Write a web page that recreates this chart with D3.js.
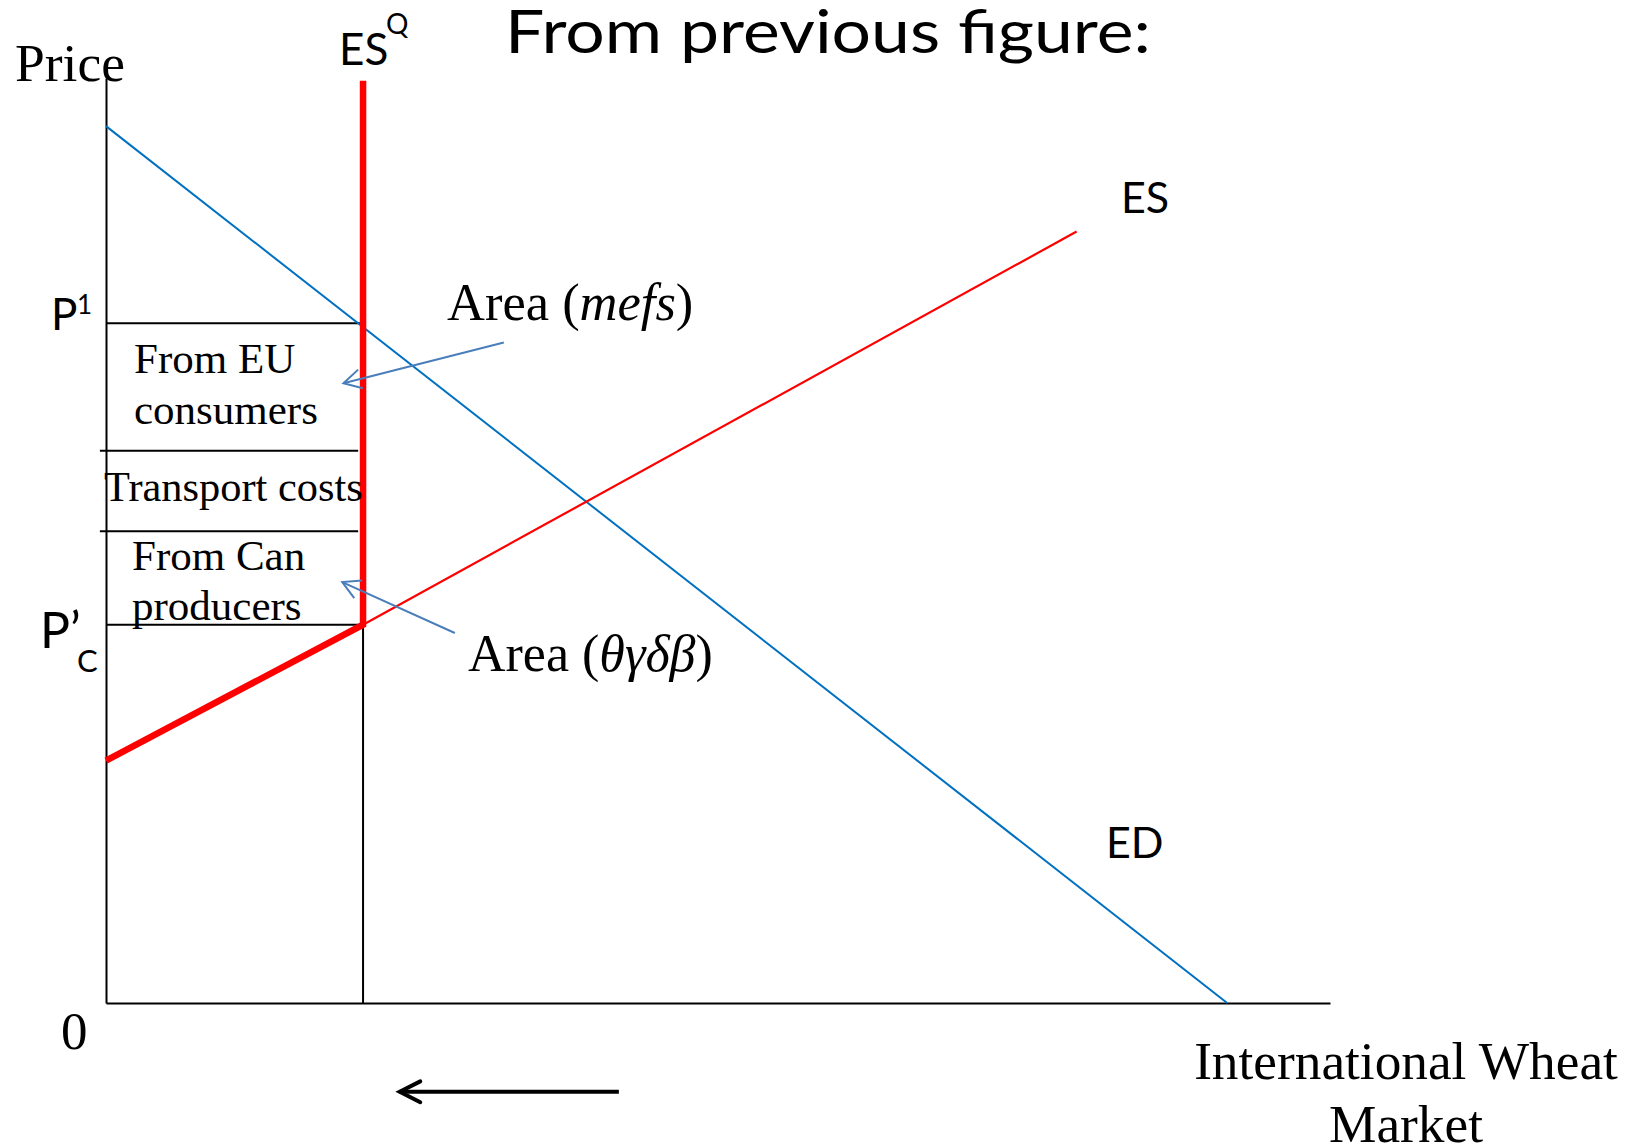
<!DOCTYPE html>
<html><head><meta charset="utf-8">
<script src="https://cdn.jsdelivr.net/npm/d3@7"></script>
<style>html,body{margin:0;padding:0;background:#fff}</style>
</head><body>
<script>
// ---------- data ----------
const xDomain = [0, 100];
const yDomain = [0, 100];
const edCurve   = [{q: 0, p: 94.8}, {q: 91.6, p: 0}];
const esCurve   = [{q: 21.0, p: 40.9}, {q: 79.3, p: 83.4}];
const esBold    = [{q: 0, p: 26.2}, {q: 21.0, p: 40.9}];
const esQuota   = [{q: 21.0, p: 40.9}, {q: 21.0, p: 99.7}];
const quotaQ    = 21.0;
const priceLines = [
  {p: 73.5, q0: 0,    q1: 21.0},
  {p: 59.7, q0: -0.5, q1: 20.6},
  {p: 51.0, q0: -0.5, q1: 20.6},
  {p: 40.9, q0: 0,    q1: 21.0}
];
const pointerArrows = [
  {from: {q: 32.5, p: 71.4}, to: {q: 19.4, p: 67.0}},
  {from: {q: 28.5, p: 40.0}, to: {q: 19.3, p: 45.5}}
];
const shiftArrow = {from: {q: 41.9, p: -9.6}, to: {q: 24.0, p: -9.6}};

// ---------- layout ----------
const W = 1641, H = 1148;
const x = d3.scaleLinear().domain(xDomain).range([106, 1330]);
const y = d3.scaleLinear().domain(yDomain).range([1003, 78]);
const serif = "'Liberation Serif','Times New Roman',serif";
const sans = "Lato,'Open Sans',sans-serif";

const svg = d3.select("body").append("svg").attr("width", W).attr("height", H);
svg.append("rect").attr("width", W).attr("height", H).attr("fill", "#fff");

const line = d3.line().x(d => x(d.q)).y(d => y(d.p));

// axes
const xAxis = d3.axisBottom(x).tickValues([]).tickSize(0);
const yAxis = d3.axisLeft(y).tickValues([]).tickSize(0);
svg.append("g").attr("transform", `translate(0,${y(0)})`).call(xAxis)
  .select(".domain").attr("stroke", "#000").attr("stroke-width", 2);
svg.append("g").attr("transform", `translate(${x(0)},0)`).call(yAxis)
  .select(".domain").attr("stroke", "#000").attr("stroke-width", 2);

// quota vertical (black, below)
svg.append("path").attr("d", line([{q: quotaQ, p: 0}, {q: quotaQ, p: 40.9}]))
  .attr("stroke", "#000").attr("stroke-width", 2).attr("fill", "none");

// price lines
svg.selectAll(".pl").data(priceLines).enter().append("path")
  .attr("d", d => line([{q: d.q0, p: d.p}, {q: d.q1, p: d.p}]))
  .attr("stroke", "#000").attr("stroke-width", 2).attr("fill", "none");

// ED
svg.append("path").attr("d", line(edCurve)).attr("stroke", "#0070C0")
  .attr("stroke-width", 2).attr("fill", "none");
// ES thin
svg.append("path").attr("d", line(esCurve)).attr("stroke", "#FF0000")
  .attr("stroke-width", 2.2).attr("fill", "none");
// ES bold + quota
svg.append("path").attr("d", line(esBold.concat(esQuota.slice(1))))
  .attr("stroke", "#FF0000").attr("stroke-width", 6.5).attr("fill", "none")
  .attr("stroke-linejoin", "miter");

// pointer arrows
function arrowHead(from, to, len, ang) {
  const dx = x(from.q) - x(to.q), dy = y(from.p) - y(to.p);
  const a = Math.atan2(dy, dx);
  const tx = x(to.q), ty = y(to.p);
  return `M${tx + len*Math.cos(a+ang)},${ty + len*Math.sin(a+ang)}L${tx},${ty}L${tx + len*Math.cos(a-ang)},${ty + len*Math.sin(a-ang)}`;
}
pointerArrows.forEach(a => {
  svg.append("path").attr("d", line([a.from, a.to])).attr("stroke", "#4A7EBB")
    .attr("stroke-width", 2).attr("fill", "none");
  svg.append("path").attr("d", arrowHead(a.from, a.to, 20, 0.5)).attr("stroke", "#4A7EBB")
    .attr("stroke-width", 2).attr("fill", "none");
});
// shift arrow
svg.append("path").attr("d", line([shiftArrow.from, shiftArrow.to])).attr("stroke", "#000")
  .attr("stroke-width", 4).attr("fill", "none");
svg.append("path").attr("d", arrowHead(shiftArrow.from, shiftArrow.to, 23, 0.47)).attr("stroke", "#000")
  .attr("stroke-width", 4).attr("fill", "none").attr("stroke-linecap", "round");

// ---------- texts ----------
function txt(s, tx, ty, size, fam, opts = {}) {
  const t = svg.append("text").attr("x", tx).attr("y", ty).attr("font-size", size)
    .attr("font-family", fam).attr("fill", "#000").text(s);
  if (opts.anchor) t.attr("text-anchor", opts.anchor);
  if (opts.len) t.attr("textLength", opts.len).attr("lengthAdjust", "spacingAndGlyphs");
  return t;
}
txt("From previous figure:", 505, 53, 60, sans, {len: 646});
txt("Price", 15, 81, 53.5, serif);
txt("ES", 339, 65, 44, sans);
txt("Q", 386, 34, 28, sans);
txt("ES", 1121, 213, 43, sans);
txt("ED", 1106, 858, 43, sans);
txt("P", 51, 330, 44, sans);
txt("1", 77, 314, 26, sans);
txt("P’", 40, 648, 50, sans);
txt("C", 77, 672, 31, sans);
txt("0", 61, 1049, 53, serif);
txt("From EU", 134, 373, 43, serif);
txt("consumers", 134, 424, 43, serif);
txt("Transport costs", 104, 501, 42.4, serif);
txt("From Can", 132, 570, 43, serif);
txt("producers", 132, 620, 43, serif);
txt("International Wheat", 1406, 1079, 53.3, serif, {anchor: "middle"});
txt("Market", 1406, 1142, 53.3, serif, {anchor: "middle"});

const a1 = svg.append("text").attr("x", 447).attr("y", 320).attr("font-size", 52.5)
  .attr("font-family", serif).attr("fill", "#000");
a1.append("tspan").text("Area (");
a1.append("tspan").attr("font-style", "italic").text("mefs");
a1.append("tspan").text(")");
const a2 = svg.append("text").attr("x", 468).attr("y", 671).attr("font-size", 52)
  .attr("font-family", serif).attr("fill", "#000");
a2.append("tspan").text("Area (");
a2.append("tspan").attr("font-style", "italic").text("θγδβ");
a2.append("tspan").text(")");
</script>
</body></html>
